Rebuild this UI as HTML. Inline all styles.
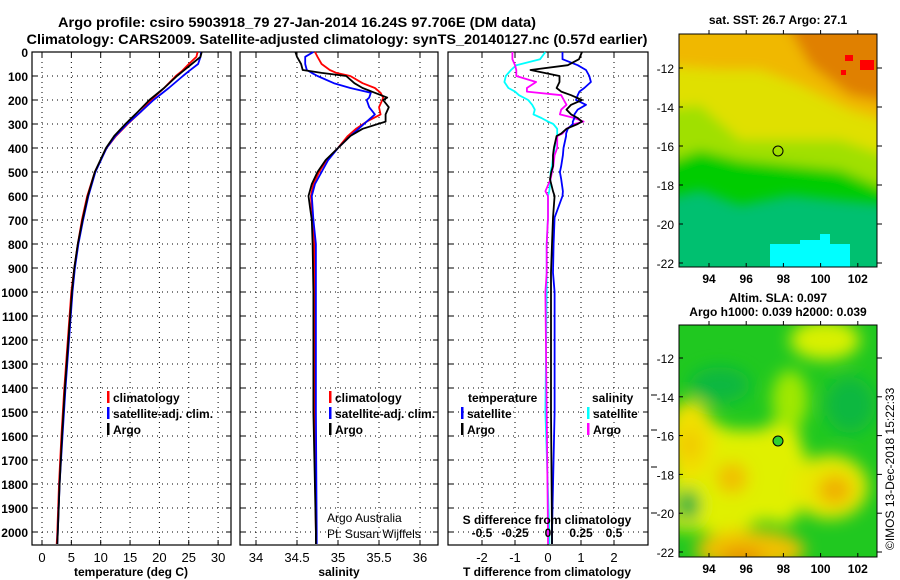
<!DOCTYPE html>
<html><head><meta charset="utf-8"><style>
body{margin:0;background:#fff;}
svg{display:block;font-family:"Liberation Sans",sans-serif;font-weight:bold;}
</style></head><body>
<svg id="chart" width="900" height="580" viewBox="0 0 900 580" xmlns="http://www.w3.org/2000/svg">
<defs>
<filter id="blur1" x="-20%" y="-20%" width="140%" height="140%"><feGaussianBlur stdDeviation="6"/></filter>
<filter id="blur2" x="-20%" y="-20%" width="140%" height="140%"><feGaussianBlur stdDeviation="8"/></filter>
<clipPath id="clipm1"><rect x="679" y="34" width="198" height="233"/></clipPath>
<clipPath id="clipm2"><rect x="679" y="325" width="198" height="232"/></clipPath>
</defs>
<text x="297" y="27" font-size="14" text-anchor="middle" textLength="478" lengthAdjust="spacingAndGlyphs">Argo profile: csiro 5903918_79 27-Jan-2014 16.24S 97.706E (DM data)</text>
<text x="337" y="44" font-size="14" text-anchor="middle" textLength="621" lengthAdjust="spacingAndGlyphs">Climatology: CARS2009. Satellite-adjusted climatology: synTS_20140127.nc (0.57d earlier)</text>

<g clip-path="url(#clipm1)">
  <rect x="679" y="34" width="198" height="233" fill="#00c070"/>
  <g filter="url(#blur1)">
    <polygon points="660,20 900,20 900,205 840,200 790,195 740,205 700,190 660,200" fill="#00cc00"/>
    <polygon points="660,20 900,20 900,195 840,170 790,165 740,160 700,150 660,165" fill="#a0e000"/>
    <polygon points="660,20 900,20 900,160 840,140 790,140 740,140 700,105 660,110" fill="#e0e000"/>
    <polygon points="660,20 900,20 900,125 850,110 800,85 760,70 720,70 660,65" fill="#f0b800"/>
    <polygon points="770,20 900,20 900,105 850,95 810,65 790,30" fill="#e08000"/>
  </g>
  <rect x="845" y="55" width="8" height="6" fill="#ff0000"/><rect x="860" y="60" width="14" height="10" fill="#ff0000"/><rect x="841" y="70" width="5" height="5" fill="#ff0000"/>
  <rect x="770" y="244" width="80" height="23" fill="#00ffff"/><rect x="800" y="240" width="30" height="6" fill="#00ffff"/><rect x="820" y="234" width="10" height="8" fill="#00ffff"/>
  <circle cx="778" cy="151" r="5" fill="none" stroke="#000" stroke-width="1"/>
</g>
<rect x="679" y="34" width="198" height="233" fill="none" stroke="#000"/>
<text x="778" y="24" font-size="12" text-anchor="middle">sat. SST: 26.7 Argo: 27.1</text>

<g clip-path="url(#clipm2)">
  <rect x="679" y="325" width="198" height="232" fill="#20c820"/>
  <g filter="url(#blur2)">
    <ellipse cx="825" cy="340" rx="35" ry="20" fill="#d8f000"/>
    <polygon points="670,420 700,415 730,430 760,430 780,420 790,400 800,440 810,470 800,510 790,525 760,520 730,540 700,530 670,530" fill="#e0f000"/>
    <ellipse cx="690" cy="440" rx="25" ry="40" fill="#f0e000"/>
    <ellipse cx="790" cy="400" rx="18" ry="30" fill="#a0e800"/>
    <ellipse cx="830" cy="487" rx="38" ry="32" fill="#e8e800"/>
    <ellipse cx="835" cy="490" rx="17" ry="15" fill="#f0b000"/>
    <ellipse cx="732" cy="478" rx="16" ry="16" fill="#f0c000"/>
    <ellipse cx="690" cy="445" rx="10" ry="15" fill="#f0c800"/>
    <ellipse cx="750" cy="550" rx="55" ry="20" fill="#f0c000"/>
    <ellipse cx="742" cy="557" rx="22" ry="9" fill="#e89000"/>
    <ellipse cx="688" cy="505" rx="12" ry="16" fill="#10b040"/>
    <ellipse cx="720" cy="385" rx="30" ry="18" fill="#10b840"/>
    <ellipse cx="850" cy="405" rx="25" ry="28" fill="#10b840"/>
  </g>
  <circle cx="778" cy="441" r="5" fill="#30d030" stroke="#000" stroke-width="1"/>
</g>
<rect x="679" y="325" width="198" height="232" fill="none" stroke="#000"/>
<text x="778" y="302" font-size="12" text-anchor="middle">Altim. SLA: 0.097</text>
<text x="778" y="316" font-size="12" text-anchor="middle">Argo h1000: 0.039 h2000: 0.039</text>
<text transform="translate(894,550) rotate(-90)" font-size="12" font-weight="normal">©IMOS 13-Dec-2018 15:22:33</text>
<g id="plots"></g>
</svg>
<script>
// ---- data ----
const depthTicks = [0,100,200,300,400,500,600,700,800,900,1000,1100,1200,1300,1400,1500,1600,1700,1800,1900,2000];
const tempTicks = [0,5,10,15,20,25,30];
const salTicks = [34,34.5,35,35.5,36];
const tdiffTicks = [-2,-1,0,1,2];
const sdiffTicks = [-0.5,-0.25,0,0.25,0.5];
const sdiffLabels = ["-0.5","-0.25","0","0.25","0.5"];
const lonTicks = [94,96,98,100,102];
const latTicks = [-12,-14,-16,-18,-20,-22];

const tDepth = [0,20,50,80,100,150,200,250,300,350,400,500,600,700,800,900,1000,1200,1400,1600,1800,2000,2050];
const tArgo  = [27.2,27,25.5,24,23,20.8,18.3,16.3,14.2,12.3,10.9,9,7.8,6.9,6.1,5.5,5.1,4.5,3.9,3.4,3,2.7,2.6];
const tClim  = [26.5,26.3,25,23.8,22.8,20.8,18.6,16.8,14.6,12.6,11,9,7.7,6.8,6.1,5.5,5.0,4.4,3.8,3.3,2.9,2.6,2.5];
const tSat   = [27.1,27,26.6,25,24,21.6,19,16.8,14.5,12.5,11,9.1,7.9,7.0,6.2,5.6,5.2,4.6,4.0,3.5,3.0,2.7,2.6];

const sDepth = [0,20,50,75,87,100,130,150,170,190,200,230,260,290,320,350,400,450,500,550,600,650,700,800,1000,1500,2000,2050];
const sArgo  = [34.48,34.5,34.55,34.57,34.8,35.1,35.2,35.3,35.45,35.6,35.55,35.62,35.58,35.58,35.3,35.15,35,34.85,34.75,34.68,34.64,34.66,34.68,34.69,34.7,34.7,34.73,34.73];
const sClim  = [34.72,34.75,34.8,34.9,34.98,35.15,35.3,35.45,35.52,35.55,35.54,35.5,35.52,35.35,35.22,35.12,35,34.86,34.77,34.7,34.67,34.68,34.7,34.71,34.71,34.71,34.73,34.73];
const sSat   = [34.7,34.6,34.6,34.62,34.68,34.75,34.95,35.15,35.4,35.38,35.35,35.38,35.45,35.35,35.25,35.15,35,34.88,34.8,34.72,34.68,34.69,34.7,34.73,34.73,34.73,34.74,34.74];

const dDepth  = [0,30,55,75,100,125,150,165,180,200,220,240,260,275,290,300,320,340,350,400,430,475,500,530,580,600,690,800,920,1000,1500,2000,2050];
const dtArgo  = [1.03,0.94,0.6,-0.53,0.35,0.35,0.26,0.4,0.7,1.03,0.7,0.56,0.7,0.9,1.03,0.9,0.56,0.4,0.26,0.18,0.15,0.15,0.1,0.06,0.15,0.2,0.15,0.12,0.09,0.09,0.09,0.12,0.12];
const dtSat   = [0.44,0.44,0.9,1.15,1.25,1.3,1.1,0.95,0.9,0.85,1.15,0.9,0.8,0.8,0.75,0.75,0.6,0.55,0.55,0.47,0.45,0.4,0.36,0.4,0.45,0.44,0.2,0.17,0.15,0.2,0.2,0.12,0.12];
const dsSat   = [-0.02,-0.06,-0.24,-0.28,-0.32,-0.33,-0.3,-0.25,-0.22,-0.15,-0.12,-0.1,-0.11,-0.05,0.0,0.04,0.07,0.07,0.07,0.05,0.04,0.03,0.02,0.02,0.01,0.0,0.0,-0.01,-0.01,-0.01,-0.02,0.01,0.01];
const dsArgo  = [-0.27,-0.27,-0.25,-0.24,-0.24,-0.09,-0.16,-0.16,0.1,0.12,0.14,0.1,0.09,0.2,0.27,0.2,0.14,0.11,0.07,0.07,0.05,0.04,0.03,0.02,-0.02,0.0,0.0,-0.01,-0.01,-0.02,-0.01,0.0,0.0];

// ---- layout ----
const NS="http://www.w3.org/2000/svg";
const root=document.getElementById('plots');
const yTop=52, pxPer100=24;
const yD = d => yTop + d*pxPer100/100;
const panels = {
  temp:{x0:32,x1:231, f:v=>42+v*5.87},
  sal:{x0:240,x1:438, f:v=>297+(v-34.5)*82},
  diff:{x0:448,x1:648, f:v=>548+v*33},
};
const sd = v=>548+v*132;
const yBot=545;
function el(tag,attrs,parent){const e=document.createElementNS(NS,tag);for(const k in attrs)e.setAttribute(k,attrs[k]);(parent||root).appendChild(e);return e;}
function txt(s,x,y,attrs,parent){const t=el('text',Object.assign({x:x,y:y,'font-size':13},attrs||{}),parent);t.textContent=s;return t;}

function frame(p,name){
  const g=el('g',{});
  
  
  return g;
}
function grid(p,g,xTicks,xf){
  depthTicks.forEach(d=>{
    const l=el('line',{x1:p.x0,x2:p.x1,y1:yD(d),y2:yD(d),stroke:'#000','stroke-dasharray':'1,4','stroke-width':1},g);
    
    
    el('line',{x1:p.x0,x2:p.x0+5,y1:yD(d),y2:yD(d),stroke:'#000'},g);
    el('line',{x1:p.x1-5,x2:p.x1,y1:yD(d),y2:yD(d),stroke:'#000'},g);
  });
  xTicks.forEach(v=>{
    const x=xf(v);
    const l=el('line',{x1:x,x2:x,y1:yTop,y2:yBot,stroke:'#000','stroke-dasharray':'1,4'},g);
    
    
    el('line',{x1:x,x2:x,y1:yTop,y2:yTop+5,stroke:'#000'},g);
    el('line',{x1:x,x2:x,y1:yBot-5,y2:yBot,stroke:'#000'},g);
  });
  const r=el('rect',{x:p.x0,y:yTop,width:p.x1-p.x0,height:yBot-yTop,fill:'none',stroke:'#000','stroke-width':1.2},g);
  
  
}
function line(g,xs,ds,xf,color,name){
  let pts='';
  for(let i=0;i<xs.length;i++){pts+=xf(xs[i]).toFixed(1)+','+yD(ds[i]).toFixed(1)+' ';}
  const pl=el('polyline',{points:pts,fill:'none',stroke:color,'stroke-width':1.8,'stroke-linejoin':'round'},g);
  
  
}
function legend(g,items,x,y){
  items.forEach((it,i)=>{
    el('rect',{x:x,y:y+i*16-11,width:2.5,height:12,fill:it[1]},g);
    const t=txt(it[0],x+6,y+i*16,{'font-size':12},g);
    
    
  });
}

// temperature panel
const pT=panels.temp, gT=frame(pT,'temperature-panel');
grid(pT,gT,tempTicks,pT.f);
line(gT,tClim,tDepth,pT.f,'#ff0000','temp-climatology-line');
line(gT,tSat,tDepth,pT.f,'#0000ff','temp-satellite-line');
line(gT,tArgo,tDepth,pT.f,'#000000','temp-argo-line');
depthTicks.forEach(d=>{const t=txt(String(d),28,yD(d)+5,{'text-anchor':'end','font-size':12},gT);
  
  });
tempTicks.forEach(v=>{const t=txt(String(v),pT.f(v),562,{'text-anchor':'middle','font-weight':'normal','font-size':13},gT);
  
  });
legend(gT,[['climatology','#ff0000'],['satellite-adj. clim.','#0000ff'],['Argo','#000']],107,402);
const xtT=txt('temperature (deg C)',131,576,{'text-anchor':'middle','font-size':12},gT);



// salinity panel
const pS=panels.sal, gS=frame(pS,'salinity-panel');
grid(pS,gS,salTicks,pS.f);
line(gS,sClim,sDepth,pS.f,'#ff0000','sal-climatology-line');
line(gS,sSat,sDepth,pS.f,'#0000ff','sal-satellite-line');
line(gS,sArgo,sDepth,pS.f,'#000000','sal-argo-line');
salTicks.forEach(v=>{const t=txt(String(v),pS.f(v),562,{'text-anchor':'middle','font-weight':'normal','font-size':13},gS);
  
  });
legend(gS,[['climatology','#ff0000'],['satellite-adj. clim.','#0000ff'],['Argo','#000']],329,402);
const xtS=txt('salinity',339,576,{'text-anchor':'middle','font-size':12},gS);


const cr1=txt('Argo Australia',327,522,{'font-weight':'normal','font-size':12},gS);


const cr2=txt('PI: Susan Wijffels',327,538,{'font-weight':'normal','font-size':12},gS);



// difference panel
const pD=panels.diff, gD=frame(pD,'difference-panel');
grid(pD,gD,tdiffTicks,pD.f);
[395,430,467,513].forEach(y=>el('line',{x1:651,x2:657,y1:y,y2:y,stroke:'#000'},gD));
line(gD,dsSat,dDepth,sd,'#00ffff','sdiff-satellite-line');
line(gD,dsArgo,dDepth,sd,'#ff00ff','sdiff-argo-line');
line(gD,dtSat,dDepth,pD.f,'#0000ff','tdiff-satellite-line');
line(gD,dtArgo,dDepth,pD.f,'#000000','tdiff-argo-line');
tdiffTicks.forEach(v=>{const t=txt(String(v),pD.f(v),562,{'text-anchor':'middle','font-weight':'normal','font-size':13},gD);
  
  });
sdiffTicks.forEach((v,i)=>{const t=txt(sdiffLabels[i],sd(v),537,{'text-anchor':'middle','font-size':12},gD);
  
  });
const sdt=txt('S difference from climatology',547,524,{'text-anchor':'middle','font-size':12},gD);


const tdt=txt('T difference from climatology',547,576,{'text-anchor':'middle','font-size':12},gD);


const lh1=txt('temperature',468,402,{'font-size':12},gD);


const lh2=txt('salinity',592,402,{'font-size':12},gD);


legend(gD,[['satellite','#0000ff'],['Argo','#000']],461,418);
legend(gD,[['satellite','#00ffff'],['Argo','#ff00ff']],587,418);

// map axes
const lonX = v=>709+(v-94)*18.6;
function mapAxes(name,latY,bottom,top){
  const g=el('g',{});
  
  
  lonTicks.forEach(v=>{
    el('line',{x1:lonX(v),x2:lonX(v),y1:bottom,y2:bottom-4,stroke:'#000'},g);
    el('line',{x1:lonX(v),x2:lonX(v),y1:top,y2:top-4,stroke:'#000'},g);
    const t=txt(String(v),lonX(v),bottom+16,{'text-anchor':'middle','font-size':12},g);
    
    
  });
  latTicks.forEach(v=>{
    const y=latY(v);
    el('line',{x1:679,x2:683,y1:y,y2:y,stroke:'#000'},g);
    el('line',{x1:877,x2:882,y1:y,y2:y,stroke:'#000'},g);
    const t=txt(String(v),674,y+5,{'text-anchor':'end','font-size':12,'font-weight':'normal'},g);
    
    
  });
}
mapAxes('sst-map-axes',v=>68+(-12-v)*19.5,267,34);
mapAxes('sla-map-axes',v=>358+(-12-v)*19.4,557,325);
</script>
</body></html>
